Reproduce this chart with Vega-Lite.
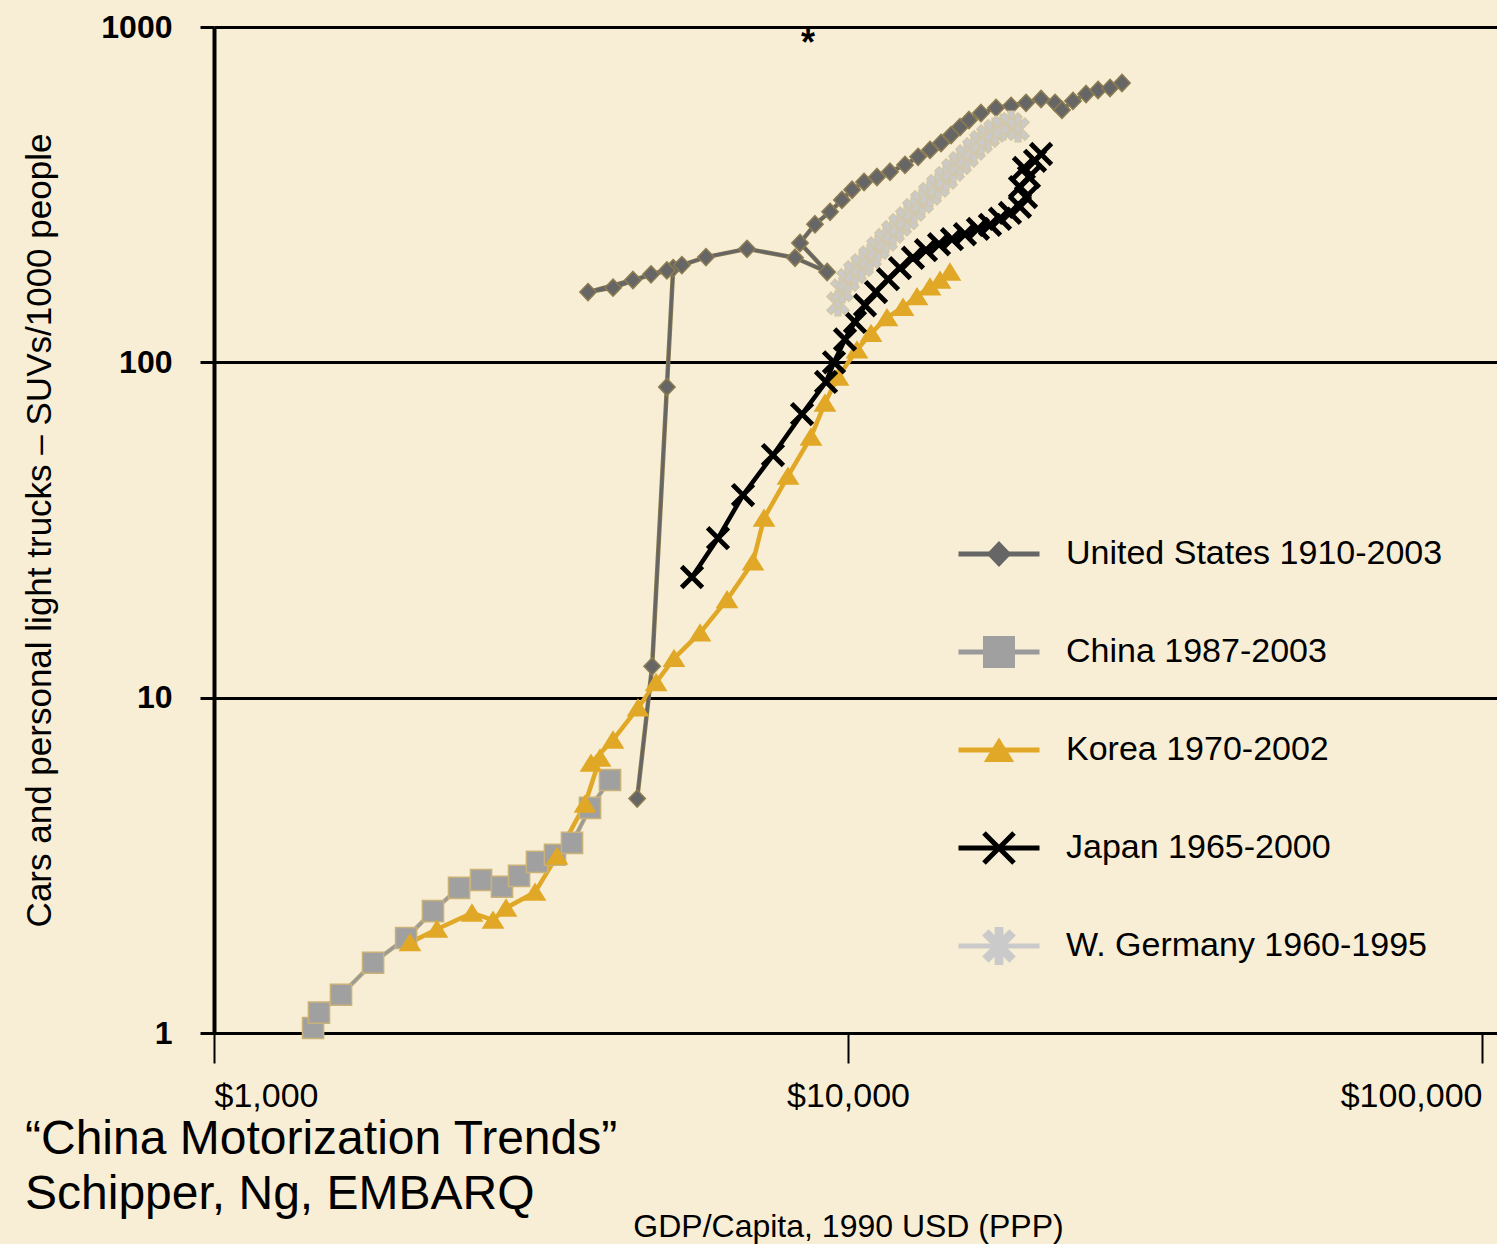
{
  "$schema": "https://vega.github.io/schema/vega-lite/v6.json",
  "autosize": {"type": "none"},
  "padding": {"left": 214, "top": 27, "right": 0, "bottom": 211},
  "width": 1283,
  "height": 1006,
  "background": "#F8EED5",
  "title": {
    "text": ["“China Motorization Trends”", "Schipper, Ng, EMBARQ"],
    "orient": "bottom",
    "anchor": "start",
    "frame": "group",
    "offset": -88,
    "dx": -189,
    "font": "Liberation Sans",
    "fontSize": 48,
    "fontWeight": "normal",
    "color": "#000000",
    "lineHeight": 55,
    "baseline": "alphabetic"
  },
  "data": {
    "values": [
      {"series": "United States 1910-2003", "seq": 1, "gdp": 4650, "cars": 5.0},
      {"series": "United States 1910-2003", "seq": 2, "gdp": 4910, "cars": 12.4},
      {"series": "United States 1910-2003", "seq": 3, "gdp": 5180, "cars": 84.4},
      {"series": "United States 1910-2003", "seq": 4, "gdp": 5300, "cars": 191},
      {"series": "United States 1910-2003", "seq": 5, "gdp": 4890, "cars": 183},
      {"series": "United States 1910-2003", "seq": 6, "gdp": 4260, "cars": 167},
      {"series": "United States 1910-2003", "seq": 7, "gdp": 3890, "cars": 162},
      {"series": "United States 1910-2003", "seq": 8, "gdp": 4580, "cars": 176},
      {"series": "United States 1910-2003", "seq": 9, "gdp": 5180, "cars": 188},
      {"series": "United States 1910-2003", "seq": 10, "gdp": 5470, "cars": 195},
      {"series": "United States 1910-2003", "seq": 11, "gdp": 5970, "cars": 206},
      {"series": "United States 1910-2003", "seq": 12, "gdp": 6930, "cars": 218},
      {"series": "United States 1910-2003", "seq": 13, "gdp": 8250, "cars": 205},
      {"series": "United States 1910-2003", "seq": 14, "gdp": 9270, "cars": 186},
      {"series": "United States 1910-2003", "seq": 15, "gdp": 8400, "cars": 227},
      {"series": "United States 1910-2003", "seq": 16, "gdp": 8870, "cars": 258},
      {"series": "United States 1910-2003", "seq": 17, "gdp": 9370, "cars": 281},
      {"series": "United States 1910-2003", "seq": 18, "gdp": 9780, "cars": 305},
      {"series": "United States 1910-2003", "seq": 19, "gdp": 10150, "cars": 327},
      {"series": "United States 1910-2003", "seq": 20, "gdp": 10600, "cars": 345},
      {"series": "United States 1910-2003", "seq": 21, "gdp": 11110, "cars": 357},
      {"series": "United States 1910-2003", "seq": 22, "gdp": 11650, "cars": 370},
      {"series": "United States 1910-2003", "seq": 23, "gdp": 12300, "cars": 388},
      {"series": "United States 1910-2003", "seq": 24, "gdp": 12900, "cars": 410},
      {"series": "United States 1910-2003", "seq": 25, "gdp": 13470, "cars": 430},
      {"series": "United States 1910-2003", "seq": 26, "gdp": 14020, "cars": 451},
      {"series": "United States 1910-2003", "seq": 27, "gdp": 14540, "cars": 476},
      {"series": "United States 1910-2003", "seq": 28, "gdp": 15020, "cars": 503},
      {"series": "United States 1910-2003", "seq": 29, "gdp": 15520, "cars": 528},
      {"series": "United States 1910-2003", "seq": 30, "gdp": 16210, "cars": 554},
      {"series": "United States 1910-2003", "seq": 31, "gdp": 17120, "cars": 574},
      {"series": "United States 1910-2003", "seq": 32, "gdp": 18080, "cars": 582},
      {"series": "United States 1910-2003", "seq": 33, "gdp": 19090, "cars": 594},
      {"series": "United States 1910-2003", "seq": 34, "gdp": 20160, "cars": 610},
      {"series": "United States 1910-2003", "seq": 35, "gdp": 21210, "cars": 594},
      {"series": "United States 1910-2003", "seq": 36, "gdp": 21750, "cars": 566},
      {"series": "United States 1910-2003", "seq": 37, "gdp": 22640, "cars": 602},
      {"series": "United States 1910-2003", "seq": 38, "gdp": 23740, "cars": 631},
      {"series": "United States 1910-2003", "seq": 39, "gdp": 24800, "cars": 649},
      {"series": "United States 1910-2003", "seq": 40, "gdp": 25900, "cars": 658},
      {"series": "United States 1910-2003", "seq": 41, "gdp": 27050, "cars": 681},

      {"series": "China 1987-2003", "seq": 1, "gdp": 1433, "cars": 1.035},
      {"series": "China 1987-2003", "seq": 2, "gdp": 1464, "cars": 1.15},
      {"series": "China 1987-2003", "seq": 3, "gdp": 1586, "cars": 1.30},
      {"series": "China 1987-2003", "seq": 4, "gdp": 1782, "cars": 1.62},
      {"series": "China 1987-2003", "seq": 5, "gdp": 2009, "cars": 1.92},
      {"series": "China 1987-2003", "seq": 6, "gdp": 2215, "cars": 2.31},
      {"series": "China 1987-2003", "seq": 7, "gdp": 2435, "cars": 2.71},
      {"series": "China 1987-2003", "seq": 8, "gdp": 2638, "cars": 2.86},
      {"series": "China 1987-2003", "seq": 9, "gdp": 2846, "cars": 2.73},
      {"series": "China 1987-2003", "seq": 10, "gdp": 3028, "cars": 2.94},
      {"series": "China 1987-2003", "seq": 11, "gdp": 3232, "cars": 3.24},
      {"series": "China 1987-2003", "seq": 12, "gdp": 3450, "cars": 3.40},
      {"series": "China 1987-2003", "seq": 13, "gdp": 3670, "cars": 3.69},
      {"series": "China 1987-2003", "seq": 14, "gdp": 3918, "cars": 4.69},
      {"series": "China 1987-2003", "seq": 15, "gdp": 4213, "cars": 5.68},

      {"series": "Korea 1970-2002", "seq": 1, "gdp": 2038, "cars": 1.86},
      {"series": "Korea 1970-2002", "seq": 2, "gdp": 2247, "cars": 2.04},
      {"series": "Korea 1970-2002", "seq": 3, "gdp": 2552, "cars": 2.28},
      {"series": "Korea 1970-2002", "seq": 4, "gdp": 2755, "cars": 2.17},
      {"series": "Korea 1970-2002", "seq": 5, "gdp": 2888, "cars": 2.36},
      {"series": "Korea 1970-2002", "seq": 6, "gdp": 3209, "cars": 2.63},
      {"series": "Korea 1970-2002", "seq": 7, "gdp": 3475, "cars": 3.37},
      {"series": "Korea 1970-2002", "seq": 8, "gdp": 3848, "cars": 4.82},
      {"series": "Korea 1970-2002", "seq": 9, "gdp": 4063, "cars": 6.61},
      {"series": "Korea 1970-2002", "seq": 10, "gdp": 3932, "cars": 6.38},
      {"series": "Korea 1970-2002", "seq": 11, "gdp": 4259, "cars": 7.48},
      {"series": "Korea 1970-2002", "seq": 12, "gdp": 4664, "cars": 9.32},
      {"series": "Korea 1970-2002", "seq": 13, "gdp": 4981, "cars": 11.1},
      {"series": "Korea 1970-2002", "seq": 14, "gdp": 5316, "cars": 13.1},
      {"series": "Korea 1970-2002", "seq": 15, "gdp": 5843, "cars": 15.6},
      {"series": "Korea 1970-2002", "seq": 16, "gdp": 6445, "cars": 19.6},
      {"series": "Korea 1970-2002", "seq": 17, "gdp": 7083, "cars": 25.4},
      {"series": "Korea 1970-2002", "seq": 18, "gdp": 7372, "cars": 34.3},
      {"series": "Korea 1970-2002", "seq": 19, "gdp": 8042, "cars": 45.8},
      {"series": "Korea 1970-2002", "seq": 20, "gdp": 8741, "cars": 59.9},
      {"series": "Korea 1970-2002", "seq": 21, "gdp": 9197, "cars": 75.6},
      {"series": "Korea 1970-2002", "seq": 22, "gdp": 9643, "cars": 90.4},
      {"series": "Korea 1970-2002", "seq": 23, "gdp": 10332, "cars": 109},
      {"series": "Korea 1970-2002", "seq": 24, "gdp": 10872, "cars": 122},
      {"series": "Korea 1970-2002", "seq": 25, "gdp": 11521, "cars": 136},
      {"series": "Korea 1970-2002", "seq": 26, "gdp": 12212, "cars": 146},
      {"series": "Korea 1970-2002", "seq": 27, "gdp": 12849, "cars": 157},
      {"series": "Korea 1970-2002", "seq": 28, "gdp": 13470, "cars": 168},
      {"series": "Korea 1970-2002", "seq": 29, "gdp": 13970, "cars": 176},
      {"series": "Korea 1970-2002", "seq": 30, "gdp": 14480, "cars": 186},

      {"series": "Japan 1965-2000", "seq": 1, "gdp": 5675, "cars": 22.9},
      {"series": "Japan 1965-2000", "seq": 2, "gdp": 6237, "cars": 29.9},
      {"series": "Japan 1965-2000", "seq": 3, "gdp": 6830, "cars": 40.2},
      {"series": "Japan 1965-2000", "seq": 4, "gdp": 7615, "cars": 52.9},
      {"series": "Japan 1965-2000", "seq": 5, "gdp": 8463, "cars": 70.1},
      {"series": "Japan 1965-2000", "seq": 6, "gdp": 9233, "cars": 87.4},
      {"series": "Japan 1965-2000", "seq": 7, "gdp": 9504, "cars": 100},
      {"series": "Japan 1965-2000", "seq": 8, "gdp": 9892, "cars": 117},
      {"series": "Japan 1965-2000", "seq": 9, "gdp": 10257, "cars": 132},
      {"series": "Japan 1965-2000", "seq": 10, "gdp": 10636, "cars": 148},
      {"series": "Japan 1965-2000", "seq": 11, "gdp": 11070, "cars": 162},
      {"series": "Japan 1965-2000", "seq": 12, "gdp": 11564, "cars": 177},
      {"series": "Japan 1965-2000", "seq": 13, "gdp": 12078, "cars": 191},
      {"series": "Japan 1965-2000", "seq": 14, "gdp": 12661, "cars": 205},
      {"series": "Japan 1965-2000", "seq": 15, "gdp": 13274, "cars": 216},
      {"series": "Japan 1965-2000", "seq": 16, "gdp": 13918, "cars": 225},
      {"series": "Japan 1965-2000", "seq": 17, "gdp": 14588, "cars": 233},
      {"series": "Japan 1965-2000", "seq": 18, "gdp": 15292, "cars": 241},
      {"series": "Japan 1965-2000", "seq": 19, "gdp": 16031, "cars": 250},
      {"series": "Japan 1965-2000", "seq": 20, "gdp": 16749, "cars": 257},
      {"series": "Japan 1965-2000", "seq": 21, "gdp": 17367, "cars": 268},
      {"series": "Japan 1965-2000", "seq": 22, "gdp": 18009, "cars": 279},
      {"series": "Japan 1965-2000", "seq": 23, "gdp": 18674, "cars": 291},
      {"series": "Japan 1965-2000", "seq": 24, "gdp": 19087, "cars": 311},
      {"series": "Japan 1965-2000", "seq": 25, "gdp": 18674, "cars": 333},
      {"series": "Japan 1965-2000", "seq": 26, "gdp": 19295, "cars": 357},
      {"series": "Japan 1965-2000", "seq": 27, "gdp": 18947, "cars": 380},
      {"series": "Japan 1965-2000", "seq": 28, "gdp": 19724, "cars": 399},
      {"series": "Japan 1965-2000", "seq": 29, "gdp": 20160, "cars": 418},

      {"series": "W. Germany 1960-1995", "seq": 1, "gdp": 9643, "cars": 150},
      {"series": "W. Germany 1960-1995", "seq": 2, "gdp": 9784, "cars": 164},
      {"series": "W. Germany 1960-1995", "seq": 3, "gdp": 10000, "cars": 176},
      {"series": "W. Germany 1960-1995", "seq": 4, "gdp": 10257, "cars": 186},
      {"series": "W. Germany 1960-1995", "seq": 5, "gdp": 10522, "cars": 195},
      {"series": "W. Germany 1960-1995", "seq": 6, "gdp": 10832, "cars": 206},
      {"series": "W. Germany 1960-1995", "seq": 7, "gdp": 11152, "cars": 219},
      {"series": "W. Germany 1960-1995", "seq": 8, "gdp": 11480, "cars": 232},
      {"series": "W. Germany 1960-1995", "seq": 9, "gdp": 11776, "cars": 245},
      {"series": "W. Germany 1960-1995", "seq": 10, "gdp": 12078, "cars": 257},
      {"series": "W. Germany 1960-1995", "seq": 11, "gdp": 12390, "cars": 269},
      {"series": "W. Germany 1960-1995", "seq": 12, "gdp": 12708, "cars": 285},
      {"series": "W. Germany 1960-1995", "seq": 13, "gdp": 13082, "cars": 301},
      {"series": "W. Germany 1960-1995", "seq": 14, "gdp": 13470, "cars": 318},
      {"series": "W. Germany 1960-1995", "seq": 15, "gdp": 13868, "cars": 336},
      {"series": "W. Germany 1960-1995", "seq": 16, "gdp": 14276, "cars": 355},
      {"series": "W. Germany 1960-1995", "seq": 17, "gdp": 14643, "cars": 375},
      {"series": "W. Germany 1960-1995", "seq": 18, "gdp": 15020, "cars": 393},
      {"series": "W. Germany 1960-1995", "seq": 19, "gdp": 15405, "cars": 412},
      {"series": "W. Germany 1960-1995", "seq": 20, "gdp": 15801, "cars": 433},
      {"series": "W. Germany 1960-1995", "seq": 21, "gdp": 16210, "cars": 454},
      {"series": "W. Germany 1960-1995", "seq": 22, "gdp": 16628, "cars": 473},
      {"series": "W. Germany 1960-1995", "seq": 23, "gdp": 17058, "cars": 490},
      {"series": "W. Germany 1960-1995", "seq": 24, "gdp": 17561, "cars": 503},
      {"series": "W. Germany 1960-1995", "seq": 25, "gdp": 18080, "cars": 514},
      {"series": "W. Germany 1960-1995", "seq": 26, "gdp": 18540, "cars": 496}
    ]
  },
  "encoding": {
    "x": {
      "field": "gdp",
      "type": "quantitative",
      "scale": {"type": "log", "domain": [1000, 105600], "nice": false},
      "axis": {
        "values": [1000, 10000, 100000],
        "format": "$,.0f",
        "grid": false,
        "domain": false,
        "tickSize": 30,
        "tickWidth": 2,
        "tickColor": "#000000",
        "labelFont": "Liberation Sans",
        "labelFontSize": 34,
        "labelColor": "#000000",
        "labelPadding": 16,
        "labelFlush": false,
        "labelOverlap": false,
        "labelBound": false,
        "labelAlign": {
          "condition": [
            {"test": "datum.value <= 1000", "value": "left"},
            {"test": "datum.value >= 100000", "value": "right"}
          ],
          "value": "center"
        },
        "title": "GDP/Capita, 1990 USD (PPP)",
        "titleFont": "Liberation Sans",
        "titleFontSize": 32,
        "titleFontWeight": "normal",
        "titleColor": "#000000",
        "titleX": 634,
        "titleY": 203,
        "titleAlign": "center",
        "titleBaseline": "alphabetic"
      }
    },
    "y": {
      "field": "cars",
      "type": "quantitative",
      "scale": {"type": "log", "domain": [1, 1000], "nice": false},
      "axis": {
        "values": [1, 10, 100, 1000],
        "format": "d",
        "grid": true,
        "gridColor": "#000000",
        "gridWidth": 3,
        "gridOpacity": 1,
        "domain": true,
        "domainColor": "#000000",
        "domainWidth": 4,
        "tickSize": 14,
        "tickWidth": 3,
        "tickColor": "#000000",
        "labelFont": "Liberation Sans",
        "labelFontWeight": "bold",
        "labelFontSize": 32,
        "labelColor": "#000000",
        "labelPadding": 28,
        "labelOverlap": false,
        "labelBound": false,
        "title": "Cars and personal light trucks – SUVs/1000 people",
        "titleFont": "Liberation Sans",
        "titleFontSize": 35,
        "titleFontWeight": "normal",
        "titleColor": "#000000",
        "titleX": -164,
        "titleY": 503,
        "titleAngle": 270,
        "titleAlign": "center",
        "titleBaseline": "alphabetic"
      }
    }
  },
  "layer": [
    {
      "mark": {"type": "line", "strokeWidth": 4.5, "strokeJoin": "round", "strokeCap": "round"},
      "encoding": {
        "color": {
          "field": "series",
          "type": "nominal",
          "sort": "descending",
          "scale": {
            "range": ["#d2c7aa", "#8c7c50", "#e0a826", "#000000", "#c9b27a"]
          },
          "legend": null
        },
        "order": {"field": "seq", "type": "quantitative"}
      }
    },
    {
      "mark": {"type": "line", "strokeWidth": 3, "strokeJoin": "round", "strokeCap": "round"},
      "encoding": {
        "stroke": {
          "field": "series",
          "type": "nominal",
          "sort": ["United States 1910-2003", "China 1987-2003", "Korea 1970-2002", "Japan 1965-2000", "W. Germany 1960-1995"],
          "scale": {
            "range": ["#666666", "#9a9a9a", "#e0a826", "#000000", "#cacaca"]
          },
          "legend": {
            "orient": "none",
            "legendX": 742,
            "legendY": 484,
            "zindex": 1,
            "title": null,
            "padding": 0,
            "symbolType": "stroke",
            "symbolSize": 6561,
            "symbolStrokeWidth": 5,
            "symbolOpacity": 1,
            "rowPadding": 38,
            "labelOffset": 24,
            "labelFont": "Liberation Sans",
            "labelFontSize": 34,
            "labelColor": "#000000",
            "labelLimit": 800
          }
        },
        "order": {"field": "seq", "type": "quantitative"}
      }
    },
    {
      "mark": {"type": "point", "filled": false, "opacity": 1, "size": 700, "strokeWidth": 1.5},
      "encoding": {
        "fill": {
          "field": "series",
          "type": "nominal",
          "scale": {
            "domain": ["United States 1910-2003", "China 1987-2003", "Korea 1970-2002", "Japan 1965-2000", "W. Germany 1960-1995"],
            "range": ["#666666", "#a0a0a0", "#e0a826", "#000000", "#cacaca"]
          },
          "legend": {
            "orient": "none",
            "legendX": 765,
            "legendY": 507,
            "zindex": 2,
            "title": null,
            "padding": 0,
            "symbolSize": 1600,
            "symbolStrokeWidth": 0,
            "symbolOpacity": 1,
            "rowPadding": 61,
            "labelOffset": 46,
            "labelOpacity": 0,
            "labelExpr": "' '",
            "labelFont": "Liberation Sans",
            "labelFontSize": 34,
            "labelLimit": 800
          }
        },
        "color": {
          "field": "series",
          "type": "nominal",
          "sort": "descending",
          "scale": {
            "range": ["#d2c7aa", "#8c7c50", "#e0a826", "#000000", "#c9b27a"]
          },
          "legend": null
        },
        "shape": {
          "field": "series",
          "type": "nominal",
          "scale": {
            "domain": ["United States 1910-2003", "China 1987-2003", "Korea 1970-2002", "Japan 1965-2000", "W. Germany 1960-1995"],
            "range": [
              "M0,-0.65L0.62,0L0,0.65L-0.62,0Z",
              "M-0.8,-0.8H0.8V0.8H-0.8Z",
              "M0,-0.62L0.76,0.6H-0.76Z",
              "M-0.84,-0.66L-0.66,-0.84L0,-0.18L0.66,-0.84L0.84,-0.66L0.18,0L0.84,0.66L0.66,0.84L0,0.18L-0.66,0.84L-0.84,0.66L-0.18,0Z",
              "M-0.22,-0.95H0.22V0.95H-0.22ZM-0.52,-0.84L0.84,0.52L0.52,0.84L-0.84,-0.52ZM-0.84,0.52L0.52,-0.84L0.84,-0.52L-0.52,0.84Z"
            ]
          },
          "legend": {
            "orient": "none",
            "legendX": 765,
            "legendY": 507,
            "zindex": 2,
            "title": null,
            "padding": 0,
            "symbolSize": 1600,
            "symbolStrokeWidth": 0,
            "symbolOpacity": 1,
            "rowPadding": 61,
            "labelOffset": 46,
            "labelOpacity": 0,
            "labelExpr": "' '",
            "labelFont": "Liberation Sans",
            "labelFontSize": 34,
            "labelLimit": 800
          }
        }
      }
    },
    {
      "data": {"values": [{"gdp": 8650, "cars": 890, "note": "*"}]},
      "mark": {"type": "text", "font": "Liberation Sans", "fontSize": 36, "fontWeight": "bold", "align": "center", "baseline": "middle", "color": "#000000"},
      "encoding": {
        "text": {"field": "note", "type": "nominal"}
      }
    }
  ],
  "config": {
    "view": {"stroke": null}
  }
}
